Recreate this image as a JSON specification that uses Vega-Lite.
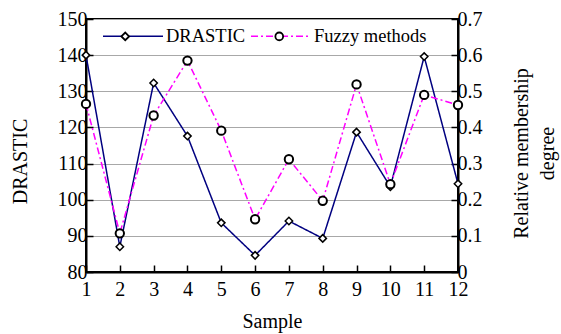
{
  "$schema": "https://vega.github.io/schema/vega-lite/v6.json",
  "width": 372,
  "height": 253,
  "autosize": {"type": "none"},
  "padding": {"left": 86, "top": 19, "right": 103, "bottom": 62},
  "background": "white",
  "config": {
    "font": "Liberation Serif",
    "view": {"stroke": "black", "strokeWidth": 2},
    "axis": {
      "labelFont": "Liberation Serif",
      "titleFont": "Liberation Serif",
      "labelFontSize": 20,
      "titleFontSize": 20,
      "titleFontWeight": "normal",
      "labelColor": "black",
      "titleColor": "black",
      "domainColor": "black",
      "domainWidth": 2,
      "tickColor": "black",
      "tickWidth": 1.5,
      "tickSize": -7,
      "labelPadding": 6,
      "labelOverlap": false,
      "gridColor": "#a8a8a8",
      "gridWidth": 1
    },
    "legend": {
      "labelFont": "Liberation Serif",
      "labelFontSize": 18.5,
      "labelColor": "black",
      "padding": 0
    }
  },
  "data": {
    "values": [
      {"sample": 1, "DRASTIC": 140.0, "Fuzzy methods": 0.465},
      {"sample": 2, "DRASTIC": 87.0, "Fuzzy methods": 0.107},
      {"sample": 3, "DRASTIC": 132.3, "Fuzzy methods": 0.433},
      {"sample": 4, "DRASTIC": 117.6, "Fuzzy methods": 0.585},
      {"sample": 5, "DRASTIC": 93.6, "Fuzzy methods": 0.391},
      {"sample": 6, "DRASTIC": 84.6, "Fuzzy methods": 0.146},
      {"sample": 7, "DRASTIC": 94.1, "Fuzzy methods": 0.312},
      {"sample": 8, "DRASTIC": 89.3, "Fuzzy methods": 0.197},
      {"sample": 9, "DRASTIC": 118.7, "Fuzzy methods": 0.519},
      {"sample": 10, "DRASTIC": 103.6, "Fuzzy methods": 0.243},
      {"sample": 11, "DRASTIC": 139.6, "Fuzzy methods": 0.49},
      {"sample": 12, "DRASTIC": 104.4, "Fuzzy methods": 0.462}
    ]
  },
  "layer": [
    {
      "layer": [
        {
          "transform": [{"fold": ["DRASTIC"], "as": ["series", "value"]}],
          "mark": {"type": "line", "strokeWidth": 1.5},
          "encoding": {
            "x": {"field": "sample", "type": "quantitative",
              "scale": {"domain": [1, 12], "nice": false, "zero": false},
              "axis": {"title": "Sample", "grid": false, "values": [1,2,3,4,5,6,7,8,9,10,11,12], "labelFlush": false, "labelOverlap": false, "labelPadding": 14, "titlePadding": 12}},
            "y": {"field": "value", "type": "quantitative",
              "scale": {"domain": [80, 150], "nice": false, "zero": false},
              "axis": {"title": "DRASTIC", "grid": true, "values": [80,90,100,110,120,130,140,150], "labelOverlap": false, "titlePadding": 27, "titleY": 142}},
            "color": {"field": "series", "type": "nominal",
              "scale": {"domain": ["DRASTIC", "Fuzzy methods"], "range": ["#000080", "#ff00ff"]},
              "legend": {"title": null, "orient": "none", "legendX": 16, "legendY": -14, "direction": "horizontal", "symbolType": "stroke", "symbolSize": 3600, "symbolStrokeWidth": 1.5, "labelOffset": 2, "columnPadding": 2}},
            "strokeDash": {"field": "series", "type": "nominal",
              "scale": {"domain": ["DRASTIC", "Fuzzy methods"], "range": [[1, 0], [7, 3, 2, 3]]},
              "legend": {"title": null, "orient": "none", "legendX": 16, "legendY": -14, "direction": "horizontal", "symbolType": "stroke", "symbolSize": 3600, "symbolStrokeWidth": 1.5, "labelOffset": 2, "columnPadding": 2}}
          }
        },
        {
          "transform": [{"fold": ["DRASTIC"], "as": ["marker", "value"]}],
          "mark": {"type": "point", "filled": true, "fill": "white", "stroke": "black", "strokeWidth": 1.5, "opacity": 1, "size": 55},
          "encoding": {
            "x": {"field": "sample", "type": "quantitative",
              "scale": {"domain": [1, 12], "nice": false, "zero": false},
              "axis": {"title": "Sample", "grid": false, "values": [1,2,3,4,5,6,7,8,9,10,11,12], "labelFlush": false, "labelOverlap": false, "labelPadding": 14, "titlePadding": 12}},
            "y": {"field": "value", "type": "quantitative",
              "scale": {"domain": [80, 150], "nice": false, "zero": false},
              "axis": {"title": "DRASTIC", "grid": true, "values": [80,90,100,110,120,130,140,150], "labelOverlap": false, "titlePadding": 27, "titleY": 142}},
            "shape": {"field": "marker", "type": "nominal",
              "scale": {"range": ["diamond", "circle"]},
              "legend": {"title": null, "orient": "none", "legendX": 30, "legendY": 8, "direction": "horizontal", "symbolSize": 60, "symbolStrokeWidth": 1.8, "labelOffset": 54, "columnPadding": 2, "labelOpacity": 0,
                "encode": {"symbols": {"update": {"fill": {"value": "white"}, "stroke": {"value": "black"}, "strokeWidth": {"value": 1.8}, "opacity": {"value": 1}}}}}}
          }
        }
      ]
    },
    {
      "layer": [
        {
          "transform": [{"fold": ["Fuzzy methods"], "as": ["series", "value"]}],
          "mark": {"type": "line", "strokeWidth": 1.5},
          "encoding": {
            "x": {"field": "sample", "type": "quantitative",
              "scale": {"domain": [1, 12], "nice": false, "zero": false},
              "axis": {"title": "Sample", "grid": false, "values": [1,2,3,4,5,6,7,8,9,10,11,12], "labelFlush": false, "labelOverlap": false, "labelPadding": 14, "titlePadding": 12}},
            "y": {"field": "value", "type": "quantitative",
              "scale": {"domain": [0, 0.7], "nice": false},
              "axis": {"orient": "right", "title": ["Relative membership", "degree"], "grid": false, "values": [0, 0.1, 0.2, 0.3, 0.4, 0.5, 0.6, 0.7], "format": ".1~f", "labelOverlap": false, "titleAngle": 270, "titlePadding": 23, "titleLineHeight": 26, "titleY": 134}},
            "color": {"field": "series", "type": "nominal"},
            "strokeDash": {"field": "series", "type": "nominal"}
          }
        },
        {
          "transform": [{"fold": ["Fuzzy methods"], "as": ["marker", "value"]}],
          "mark": {"type": "point", "filled": true, "fill": "white", "stroke": "black", "strokeWidth": 2, "opacity": 1, "size": 70},
          "encoding": {
            "x": {"field": "sample", "type": "quantitative",
              "scale": {"domain": [1, 12], "nice": false, "zero": false},
              "axis": {"title": "Sample", "grid": false, "values": [1,2,3,4,5,6,7,8,9,10,11,12], "labelFlush": false, "labelOverlap": false, "labelPadding": 14, "titlePadding": 12}},
            "y": {"field": "value", "type": "quantitative",
              "scale": {"domain": [0, 0.7], "nice": false},
              "axis": {"orient": "right", "title": ["Relative membership", "degree"], "grid": false, "values": [0, 0.1, 0.2, 0.3, 0.4, 0.5, 0.6, 0.7], "format": ".1~f", "labelOverlap": false, "titleAngle": 270, "titlePadding": 23, "titleLineHeight": 26, "titleY": 134}},
            "shape": {"field": "marker", "type": "nominal"}
          }
        }
      ]
    }
  ],
  "resolve": {"scale": {"y": "independent"}}
}
